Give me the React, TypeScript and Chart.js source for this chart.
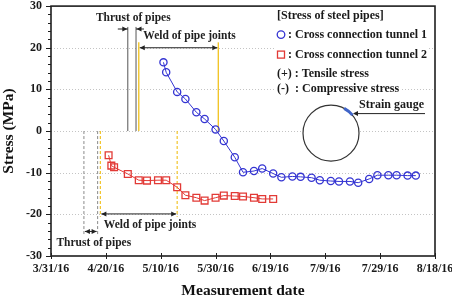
import React, { useEffect, useRef } from 'react';
import { Chart, registerables } from 'chart.js';

Chart.register(...registerables);

// x axis: days elapsed since 3/31/16
const xTickLabels = ['3/31/16', '4/20/16', '5/10/16', '5/30/16', '6/19/16', '7/9/16', '7/29/16', '8/18/16'];
const xTickStep = 20;
const yGridValues = [20, 10, 0, -10, -20];

// Cross connection tunnel 1 (circles)
const tunnel1Days = [41, 42, 46, 49, 53, 56, 60, 63, 67, 70, 74, 77, 81, 84, 88, 91, 95, 98, 102, 105, 109, 112, 116, 119, 123, 126, 130, 133];
const tunnel1Stress = [16.5, 14.1, 9.4, 7.7, 4.5, 2.9, 0.4, -2.4, -6.3, -9.9, -9.6, -9.0, -10.2, -11.1, -10.9, -11.0, -11.2, -11.8, -12.0, -12.1, -12.1, -12.4, -11.5, -10.6, -10.6, -10.6, -10.7, -10.7];

// Cross connection tunnel 2 (squares)
const tunnel2Days = [21, 22, 23, 28, 32, 35, 39, 42, 46, 49, 53, 56, 60, 63, 67, 70, 74, 77, 81];
const tunnel2Stress = [-5.8, -8.3, -8.7, -10.3, -11.8, -11.9, -11.8, -11.8, -13.5, -15.4, -16.0, -16.7, -16.0, -15.5, -15.6, -15.7, -16.0, -16.3, -16.3];

// construction events (days since 3/31/16)
const thrustDays1 = [28, 31];
const weldDays1 = [32, 61];
const thrustDays2 = [12, 17];
const weldDays2 = [18, 46];

const BLUE = '#3434d2';
const RED = '#e23a36';
const YELLOW = '#f2c52a';
const FONT = '"Liberation Serif", "Times New Roman", serif';

function toPoints(days: number[], vals: number[]) {
  return days.map((d, i) => ({ x: d, y: vals[i] }));
}

function arrowHead(ctx: CanvasRenderingContext2D, x: number, y: number, dir: number) {
  ctx.beginPath();
  ctx.moveTo(x, y);
  ctx.lineTo(x - dir * 5, y - 2.5);
  ctx.lineTo(x - dir * 5, y + 2.5);
  ctx.closePath();
  ctx.fill();
}

function hLine(ctx: CanvasRenderingContext2D, x1: number, x2: number, y: number) {
  ctx.beginPath();
  ctx.moveTo(x1, y);
  ctx.lineTo(x2, y);
  ctx.stroke();
}

function vLine(ctx: CanvasRenderingContext2D, x: number, y1: number, y2: number) {
  ctx.beginPath();
  ctx.moveTo(x, y1);
  ctx.lineTo(x, y2);
  ctx.stroke();
}

const decorPlugin = {
  id: 'decor',
  beforeDatasetsDraw(chart: any) {
    const { ctx, chartArea: a, scales } = chart;
    const xs = scales.x;
    const ys = scales.y;
    ctx.save();
    // dotted grid
    ctx.strokeStyle = '#c4c4c4';
    ctx.lineWidth = 1;
    ctx.setLineDash([1, 2]);
    yGridValues.forEach((v) => {
      const y = Math.round(ys.getPixelForValue(v)) + 0.5;
      hLine(ctx, a.left, a.right, y);
    });

    // events above zero: thrust of pipes (solid gray), weld of pipe joints (solid yellow)
    ctx.setLineDash([]);
    ctx.strokeStyle = '#555';
    ctx.lineWidth = 1;
    thrustDays1.forEach((d) => vLine(ctx, xs.getPixelForValue(d), ys.getPixelForValue(25), ys.getPixelForValue(0)));
    ctx.strokeStyle = YELLOW;
    ctx.lineWidth = 1.4;
    weldDays1.forEach((d) => vLine(ctx, xs.getPixelForValue(d), ys.getPixelForValue(21.3), ys.getPixelForValue(0)));

    // events below zero: dashed
    ctx.setLineDash([3, 2]);
    ctx.strokeStyle = '#8a8a8a';
    ctx.lineWidth = 1;
    thrustDays2.forEach((d) => vLine(ctx, xs.getPixelForValue(d), ys.getPixelForValue(0), ys.getPixelForValue(-24.8)));
    ctx.strokeStyle = YELLOW;
    ctx.lineWidth = 1.2;
    weldDays2.forEach((d) => vLine(ctx, xs.getPixelForValue(d), ys.getPixelForValue(0), ys.getPixelForValue(-20.6)));
    ctx.setLineDash([]);

    // arrows
    ctx.strokeStyle = '#222';
    ctx.fillStyle = '#222';
    ctx.lineWidth = 1;
    // thrust (top): →| |←
    const ta = xs.getPixelForValue(thrustDays1[0]);
    const tb = xs.getPixelForValue(thrustDays1[1]);
    const ty = ys.getPixelForValue(24.5);
    hLine(ctx, ta - 10, ta, ty);
    arrowHead(ctx, ta - 0.5, ty, 1);
    hLine(ctx, tb, tb + 8, ty);
    arrowHead(ctx, tb + 0.5, ty, -1);
    // weld (top): double arrow
    const wa = xs.getPixelForValue(weldDays1[0]);
    const wb = xs.getPixelForValue(weldDays1[1]);
    const wy = ys.getPixelForValue(20);
    hLine(ctx, wa + 1, wb - 1, wy);
    arrowHead(ctx, wa + 1, wy, -1);
    arrowHead(ctx, wb - 1, wy, 1);
    // thrust (bottom)
    const tc = xs.getPixelForValue(thrustDays2[0]);
    const td = xs.getPixelForValue(thrustDays2[1]);
    const ty2 = ys.getPixelForValue(-24.1);
    hLine(ctx, tc + 1, td - 1, ty2);
    arrowHead(ctx, tc + 1, ty2, -1);
    arrowHead(ctx, td - 1, ty2, 1);
    // weld (bottom)
    const wc = xs.getPixelForValue(weldDays2[0]);
    const wd = xs.getPixelForValue(weldDays2[1]);
    const wy2 = ys.getPixelForValue(-19.9);
    hLine(ctx, wc + 1, wd - 1, wy2);
    arrowHead(ctx, wc + 1, wy2, -1);
    arrowHead(ctx, wd - 1, wy2, 1);

    // annotation labels
    ctx.font = `bold 11.5px ${FONT}`;
    ctx.textAlign = 'center';
    ctx.textBaseline = 'middle';
    ctx.fillText('Thrust of pipes', xs.getPixelForValue(30), ys.getPixelForValue(27.2));
    ctx.fillText('Weld of pipe joints', xs.getPixelForValue(50.5), ys.getPixelForValue(22.8));
    ctx.fillText('Weld of pipe joints', xs.getPixelForValue(36.1), ys.getPixelForValue(-22.6));
    ctx.fillText('Thrust of pipes', xs.getPixelForValue(15.6), ys.getPixelForValue(-26.8));
    ctx.restore();
  },
  afterDraw(chart: any) {
    const { ctx, chartArea: a, scales } = chart;
    const xs = scales.x;
    const ys = scales.y;
    ctx.save();

    // legend / notes block
    const lx = a.right - 158;
    ctx.font = `bold 12px ${FONT}`;
    ctx.textBaseline = 'middle';
    ctx.textAlign = 'left';
    const line = (txt: string, x: number, y: number) => {
      const w = ctx.measureText(txt).width;
      const left = ctx.textAlign === 'right' ? x - w : x;
      ctx.fillStyle = '#fff';
      ctx.fillRect(left - 1, y - 7, w + 2, 14);
      ctx.fillStyle = '#1a1a1a';
      ctx.fillText(txt, x, y);
    };
    line('[Stress of steel pipes]', lx, a.top + 10);
    ctx.fillStyle = '#fff';
    ctx.fillRect(lx - 1, a.top + 21, 12, 14);
    ctx.fillRect(lx - 1, a.top + 41, 12, 14);
    line(': Cross connection tunnel 1', lx + 11, a.top + 28.5);
    line(': Cross connection tunnel 2', lx + 11, a.top + 48.5);
    ctx.lineWidth = 1.3;
    ctx.strokeStyle = BLUE;
    ctx.beginPath();
    ctx.arc(lx + 4, a.top + 28.5, 3.8, 0, Math.PI * 2);
    ctx.stroke();
    ctx.strokeStyle = RED;
    ctx.strokeRect(lx + 0.5, a.top + 45, 7, 7);
    line('(+) : Tensile stress', lx, a.top + 68);
    line('(-)  : Compressive stress', lx, a.top + 82.5);

    // strain gauge sketch
    const cx = a.right - 104;
    const cy = ys.getPixelForValue(-0.5);
    ctx.fillStyle = '#fff';
    ctx.beginPath();
    ctx.arc(cx, cy, 28, 0, Math.PI * 2);
    ctx.fill();
    ctx.strokeStyle = '#333';
    ctx.lineWidth = 1.2;
    ctx.stroke();
    ctx.strokeStyle = '#3f64c8';
    ctx.lineWidth = 3;
    ctx.beginPath();
    ctx.arc(cx, cy, 28, (-62 * Math.PI) / 180, (-40 * Math.PI) / 180);
    ctx.stroke();
    ctx.textAlign = 'right';
    line('Strain gauge', a.right - 11, a.top + 99);
    ctx.textAlign = 'left';
    ctx.strokeStyle = '#222';
    ctx.fillStyle = '#222';
    ctx.lineWidth = 1;
    const ay = a.top + 107.5;
    hLine(ctx, cx + 23, a.right - 10, ay);
    arrowHead(ctx, cx + 22, ay, -1);

    // frame
    ctx.strokeStyle = '#1e1e1e';
    ctx.lineWidth = 1.6;
    ctx.strokeRect(a.left, a.top, a.right - a.left, a.bottom - a.top);

    // y ticks: major every 10, minor every 2
    ctx.lineWidth = 1;
    for (let v = -30; v <= 30; v += 2) {
      const y = Math.round(ys.getPixelForValue(v)) + 0.5;
      const len = v % 10 === 0 ? 5 : 3;
      hLine(ctx, a.left - len, a.left, y);
    }
    // x ticks
    for (let i = 0; i < xTickLabels.length; i++) {
      const x = Math.round(xs.getPixelForValue(i * xTickStep)) + 0.5;
      vLine(ctx, x, a.bottom - 3, a.bottom + 3);
    }
    ctx.restore();
  },
};

export default function App() {
  const canvasRef = useRef<HTMLCanvasElement | null>(null);

  useEffect(() => {
    document.body.style.margin = '0';
    const canvas = canvasRef.current;
    if (!canvas) return;
    const chart = new Chart(canvas, {
      type: 'line',
      data: {
        datasets: [
          {
            label: 'Cross connection tunnel 1',
            data: toPoints(tunnel1Days, tunnel1Stress),
            borderColor: BLUE,
            backgroundColor: 'rgba(0,0,0,0)',
            borderWidth: 1,
            pointStyle: 'circle',
            pointRadius: 3.6,
            pointBorderWidth: 1.3,
            pointBorderColor: BLUE,
            pointBackgroundColor: 'rgba(0,0,0,0)',
            tension: 0,
          },
          {
            label: 'Cross connection tunnel 2',
            data: toPoints(tunnel2Days, tunnel2Stress),
            borderColor: RED,
            backgroundColor: 'rgba(0,0,0,0)',
            borderWidth: 1,
            pointStyle: 'rect',
            pointRadius: 4.8,
            pointBorderWidth: 1.3,
            pointBorderColor: RED,
            pointBackgroundColor: 'rgba(0,0,0,0)',
            tension: 0,
          },
        ],
      },
      options: {
        animation: false,
        responsive: false,
        maintainAspectRatio: false,
        layout: { padding: { top: 5, right: 17, left: 0, bottom: 0 } },
        plugins: { legend: { display: false }, tooltip: { enabled: false } },
        scales: {
          x: {
            type: 'linear',
            min: 0,
            max: 140,
            grid: { display: false, drawTicks: false },
            border: { display: false },
            ticks: {
              stepSize: xTickStep,
              padding: 6,
              color: '#1a1a1a',
              font: { family: FONT, size: 12, weight: 'bold' },
              maxRotation: 0,
              autoSkip: false,
              callback: (v: any) => xTickLabels[Math.round(Number(v) / xTickStep)] ?? '',
            },
            title: {
              display: true,
              text: 'Measurement date',
              color: '#111',
              font: { family: FONT, size: 15.5, weight: 'bold' },
              padding: { top: 0, bottom: 0 },
            },
            afterFit: (s: any) => {
              s.height = 44;
              s.paddingLeft = 0;
              s.paddingRight = 0;
            },
          },
          y: {
            min: -30,
            max: 30,
            grid: { display: false, drawTicks: false },
            border: { display: false },
            ticks: {
              stepSize: 10,
              padding: 9,
              color: '#1a1a1a',
              font: { family: FONT, size: 12, weight: 'bold' },
            },
            title: {
              display: true,
              text: 'Stress (MPa)',
              color: '#111',
              font: { family: FONT, size: 15.5, weight: 'bold' },
              padding: { top: 0, bottom: 0 },
            },
            afterFit: (s: any) => {
              s.width = 51;
              s.paddingTop = 0;
              s.paddingBottom = 0;
            },
          },
        },
      },
      plugins: [decorPlugin],
    });
    return () => chart.destroy();
  }, []);

  return (
    <div style={{ width: 452, height: 300, background: '#fff' }}>
      <canvas ref={canvasRef} width={452} height={300} style={{ display: 'block', width: 452, height: 300 }} />
    </div>
  );
}
